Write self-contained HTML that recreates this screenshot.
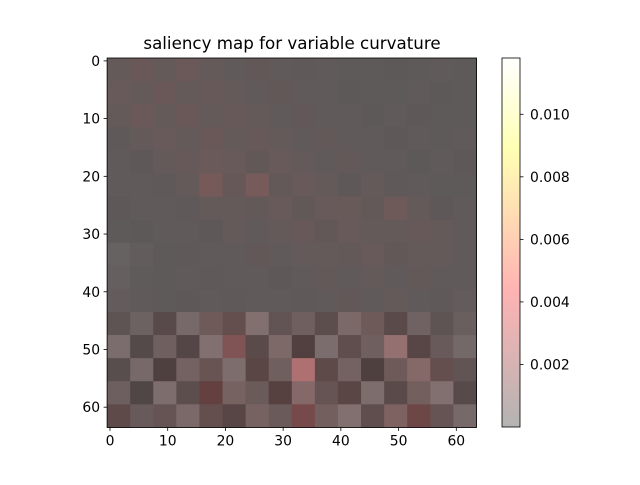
<!DOCTYPE html>
<html><head><meta charset="utf-8"><style>
body{margin:0;background:#fff;font-family:"Liberation Sans","DejaVu Sans",sans-serif}
svg text{font-family:"DejaVu Sans","Liberation Sans",sans-serif;font-size:13.9px}
</style></head><body>
<svg id="c" width="640" height="480" xmlns="http://www.w3.org/2000/svg">
<rect width="640" height="480" fill="#fff"/>
<text x="292" y="49" text-anchor="middle" style="font-size:16.7px">saliency map for variable curvature</text>
<g id="img"></g>
<g id="ax"></g>
<defs><linearGradient id="cg" x1="0" y1="1" x2="0" y2="0">
<stop offset="0" stop-color="#b3b3b3"/><stop offset="0.37" stop-color="#ffb3b3"/><stop offset="0.75" stop-color="#ffffb3"/><stop offset="1" stop-color="#ffffff"/></linearGradient></defs>
<rect x="502" y="58" width="18" height="369" fill="url(#cg)" stroke="#000" stroke-width="0.8"/>
<g id="cb"></g>
</svg>
<script>
// base image grey levels, 16x16 blocks (each block = 4x4 pixels of the 64x64 image)
const baseGrey = [
[128,126,128,127,129,128,126,128,127,129,128,128,127,128,129,128],
[128,129,126,128,127,128,128,126,129,128,127,128,128,129,127,128],
[129,127,128,126,128,127,129,128,126,128,128,127,129,126,128,128],
[127,128,128,129,126,128,127,129,128,127,128,128,126,128,128,129],
[128,126,129,127,128,128,126,128,128,129,127,128,128,127,128,126],
[128,129,127,128,128,126,129,127,128,128,126,129,127,128,128,128],
[126,128,128,127,129,128,127,128,126,128,129,127,128,128,126,129],
[128,127,129,128,126,128,128,129,127,126,128,128,129,127,128,128],
[140,132,128,127,129,128,126,128,128,129,127,128,126,128,129,128],
[136,130,128,129,127,128,128,126,128,127,129,128,128,127,128,129],
[132,129,128,126,128,127,129,128,127,128,126,129,128,128,127,132],
[120,140,105,150,128,112,160,120,135,112,150,128,105,140,120,135],
[155,105,135,100,160,120,105,150,92,155,112,135,160,100,128,150],
[112,150,92,140,120,155,100,135,160,105,140,92,128,150,112,120],
[135,100,155,112,92,140,128,92,150,120,100,155,105,135,160,105],
[105,128,120,150,112,100,140,128,105,135,160,112,140,100,120,150]];
// saliency values (x 0.001), 16x16 blocks
const saliency = [
[0.6,1.0,0.6,1.0,0.6,0.4,0.6,0.4,0.4,0.3,0.3,0.3,0.3,0.3,0.3,0.3],
[0.8,0.6,1.0,0.6,0.8,0.6,0.4,0.6,0.4,0.4,0.3,0.3,0.3,0.3,0.3,0.3],
[0.6,1.0,0.6,1.0,0.6,0.8,0.6,0.4,0.6,0.4,0.4,0.3,0.4,0.3,0.3,0.3],
[0.4,0.6,0.8,0.6,1.0,0.6,0.8,0.6,0.4,0.6,0.4,0.4,0.3,0.4,0.3,0.3],
[0.4,0.4,0.6,0.8,1.0,0.8,0.6,0.8,0.6,0.4,0.6,0.4,0.4,0.3,0.4,0.3],
[0.4,0.4,0.4,0.6,1.6,0.8,1.6,0.6,0.8,0.6,0.4,0.6,0.4,0.4,0.3,0.3],
[0.3,0.4,0.4,0.4,0.6,0.6,0.6,0.8,0.6,0.8,0.8,0.6,1.2,0.6,0.4,0.3],
[0.3,0.3,0.4,0.4,0.4,0.6,0.4,0.6,0.8,0.6,0.8,0.6,0.6,0.8,0.6,0.4],
[0.3,0.3,0.3,0.4,0.4,0.4,0.6,0.4,0.6,0.6,0.6,0.8,0.6,0.6,0.6,0.4],
[0.3,0.3,0.3,0.3,0.4,0.4,0.4,0.4,0.4,0.6,0.4,0.6,0.4,0.6,0.4,0.4],
[0.4,0.3,0.3,0.3,0.4,0.4,0.4,0.4,0.4,0.4,0.6,0.4,0.6,0.4,0.4,0.4],
[0.6,0.6,0.8,0.8,1.2,1.2,1.0,0.8,1.0,0.8,1.0,1.2,1.0,0.8,0.6,0.6],
[0.8,0.6,1.0,0.8,1.0,2.5,1.0,1.2,1.0,0.8,1.0,1.0,2.0,1.0,0.8,0.6],
[0.6,0.8,0.8,1.0,1.2,1.0,1.2,1.0,3.5,1.2,1.0,0.8,1.2,1.6,1.2,0.8],
[0.8,0.6,1.0,0.8,2.0,1.2,1.0,1.2,1.6,1.0,1.2,1.0,1.0,1.2,1.0,0.8],
[1.2,0.8,1.0,1.0,1.2,1.0,1.2,1.0,2.5,1.2,1.0,1.0,1.6,2.2,1.0,0.8]];
const xTicks=[0,10,20,30,40,50,60];
const yTicks=[0,10,20,30,40,50,60];
const cbTicks=[0.002,0.004,0.006,0.008,0.010];
const vmax=0.0118;

const NS="http://www.w3.org/2000/svg";
const L=107.1,T=58,S=369.4/64;
const px=v=>L+(v+0.5)*S, py=v=>T+(v+0.5)*S;
function hot(t){return [Math.min(1,t/0.365)*255,Math.min(1,Math.max(0,(t-0.365)/0.375))*255,Math.min(1,Math.max(0,(t-0.746)/0.254))*255];}
const g=document.getElementById('img');
for(let r=0;r<16;r++)for(let c=0;c<16;c++){
  const b=baseGrey[r][c], v=saliency[r][c]*0.001/vmax, h=hot(v), a=0.3;
  const col=[0,1,2].map(i=>Math.round(b*(1-a)+h[i]*a));
  const rc=document.createElementNS(NS,'rect');
  rc.setAttribute('x',L+c*4*S);rc.setAttribute('y',T+r*4*S);
  rc.setAttribute('width',4*S+0.5);rc.setAttribute('height',4*S+0.5);
  rc.setAttribute('fill',`rgb(${col})`);
  
  
  g.appendChild(rc);
}
const ax=document.getElementById('ax');
function add(tag,attrs,txt){const e=document.createElementNS(NS,tag);for(const k in attrs)e.setAttribute(k,attrs[k]);if(txt!==undefined)e.textContent=txt;return e;}
const fr=add('rect',{x:L,y:T,width:64*S,height:64*S,fill:'none',stroke:'#000','stroke-width':0.8});


ax.appendChild(fr);
xTicks.forEach(t=>{const x=px(t);
  ax.appendChild(add('line',{x1:x,x2:x,y1:T+64*S,y2:T+64*S+3.5,stroke:'#000','stroke-width':0.8}));
  const tx=add('text',{x:x,y:T+64*S+18,'text-anchor':'middle'},t);
  
  
  ax.appendChild(tx);});
yTicks.forEach(t=>{const y=py(t);
  ax.appendChild(add('line',{x1:L,x2:L-3.5,y1:y,y2:y,stroke:'#000','stroke-width':0.8}));
  const tx=add('text',{x:L-7,y:y+5,'text-anchor':'end'},t);
  
  
  ax.appendChild(tx);});
const cb=document.getElementById('cb');
cbTicks.forEach(t=>{const y=427-t/vmax*369;
  cb.appendChild(add('line',{x1:520,x2:523.5,y1:y,y2:y,stroke:'#000','stroke-width':0.8}));
  const tx=add('text',{x:530,y:y+5},t.toFixed(3));
  
  
  cb.appendChild(tx);});
</script>
</body></html>
